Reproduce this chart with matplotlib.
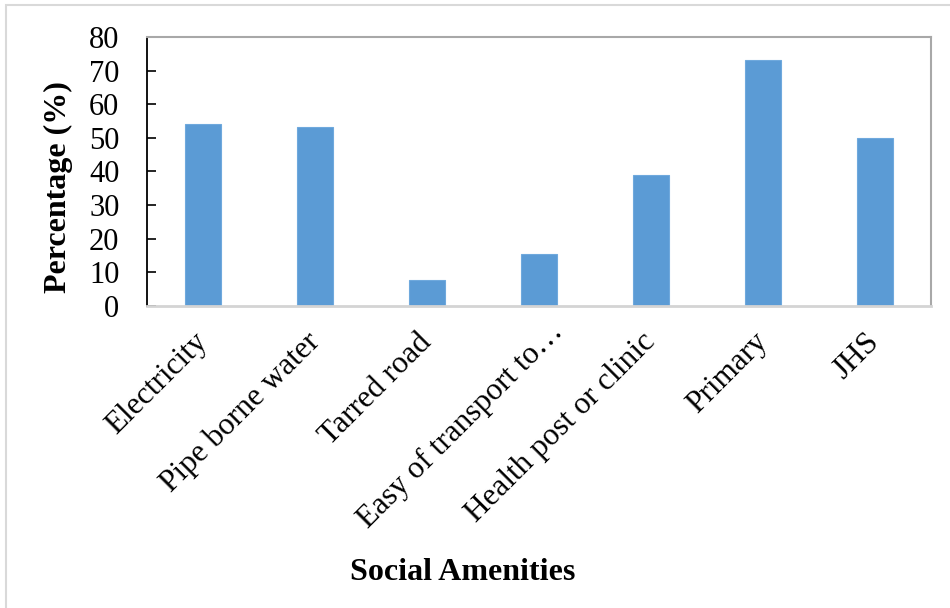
import matplotlib.pyplot as plt
from matplotlib.patches import Rectangle
from matplotlib.transforms import ScaledTranslation

# Share of respondents with access to each social amenity
amenities = ["Electricity", "Pipe borne water", "Tarred road", "Easy of transport to\u2026",
             "Health post or clinic", "Primary", "JHS"]
percent = [54.2, 53.2, 7.6, 15.4, 38.9, 73.2, 49.9]
yticks = [0, 10, 20, 30, 40, 50, 60, 70, 80]

plt.rcParams['font.family'] = ['Liberation Serif', 'DejaVu Serif']

fig = plt.figure(figsize=(9.5, 6.08), dpi=100)
ax = fig.add_axes([0.155, 0.497, 0.825, 0.442])

x = range(len(amenities))
ax.bar(x, percent, width=0.32, color="#5b9bd5", edgecolor="#6fa9dd", linewidth=0.8, zorder=2)

ax.set_xlim(-0.5, len(amenities) - 0.5)
ax.set_ylim(0, 80)
ax.set_yticks(yticks)
ax.set_yticklabels([str(v) for v in yticks], fontsize=22)
ax.set_xticks(list(x))
ax.set_xticklabels(amenities, fontsize=22.5, rotation=45, ha='right',
                   rotation_mode='anchor', va='center')
ax.tick_params(axis='x', length=0, pad=23)
ax.tick_params(axis='y', length=6.5, width=1.2, color='black', pad=20, direction='in')

# the truncated label sits a little further along its own direction
lbl = ax.get_xticklabels()[3]
lbl.set_transform(lbl.get_transform() + ScaledTranslation(0.2, 0.1, fig.dpi_scale_trans))

ax.spines['left'].set_color('black')
ax.spines['left'].set_linewidth(1.3)
ax.spines['bottom'].set_color('#d4d4d4')
ax.spines['bottom'].set_linewidth(2)
ax.spines['top'].set_color('#a8a8a8')
ax.spines['top'].set_linewidth(1.5)
ax.spines['right'].set_color('#a8a8a8')
ax.spines['right'].set_linewidth(1.5)

ax.set_ylabel("Percentage (%)", fontsize=23, fontweight='bold')
ax.yaxis.set_label_coords(-0.095, 0.442)
fig.text(0.487, 0.059, "Social Amenities", fontsize=23, fontweight='bold',
         ha='center', va='center')

# thin chart border
fig.patches.append(Rectangle((0.006, -0.01), 1.1, 1.002, transform=fig.transFigure,
                             fill=False, edgecolor='#d9d9d9', linewidth=1.5))

plt.savefig("out.png", dpi=100)
